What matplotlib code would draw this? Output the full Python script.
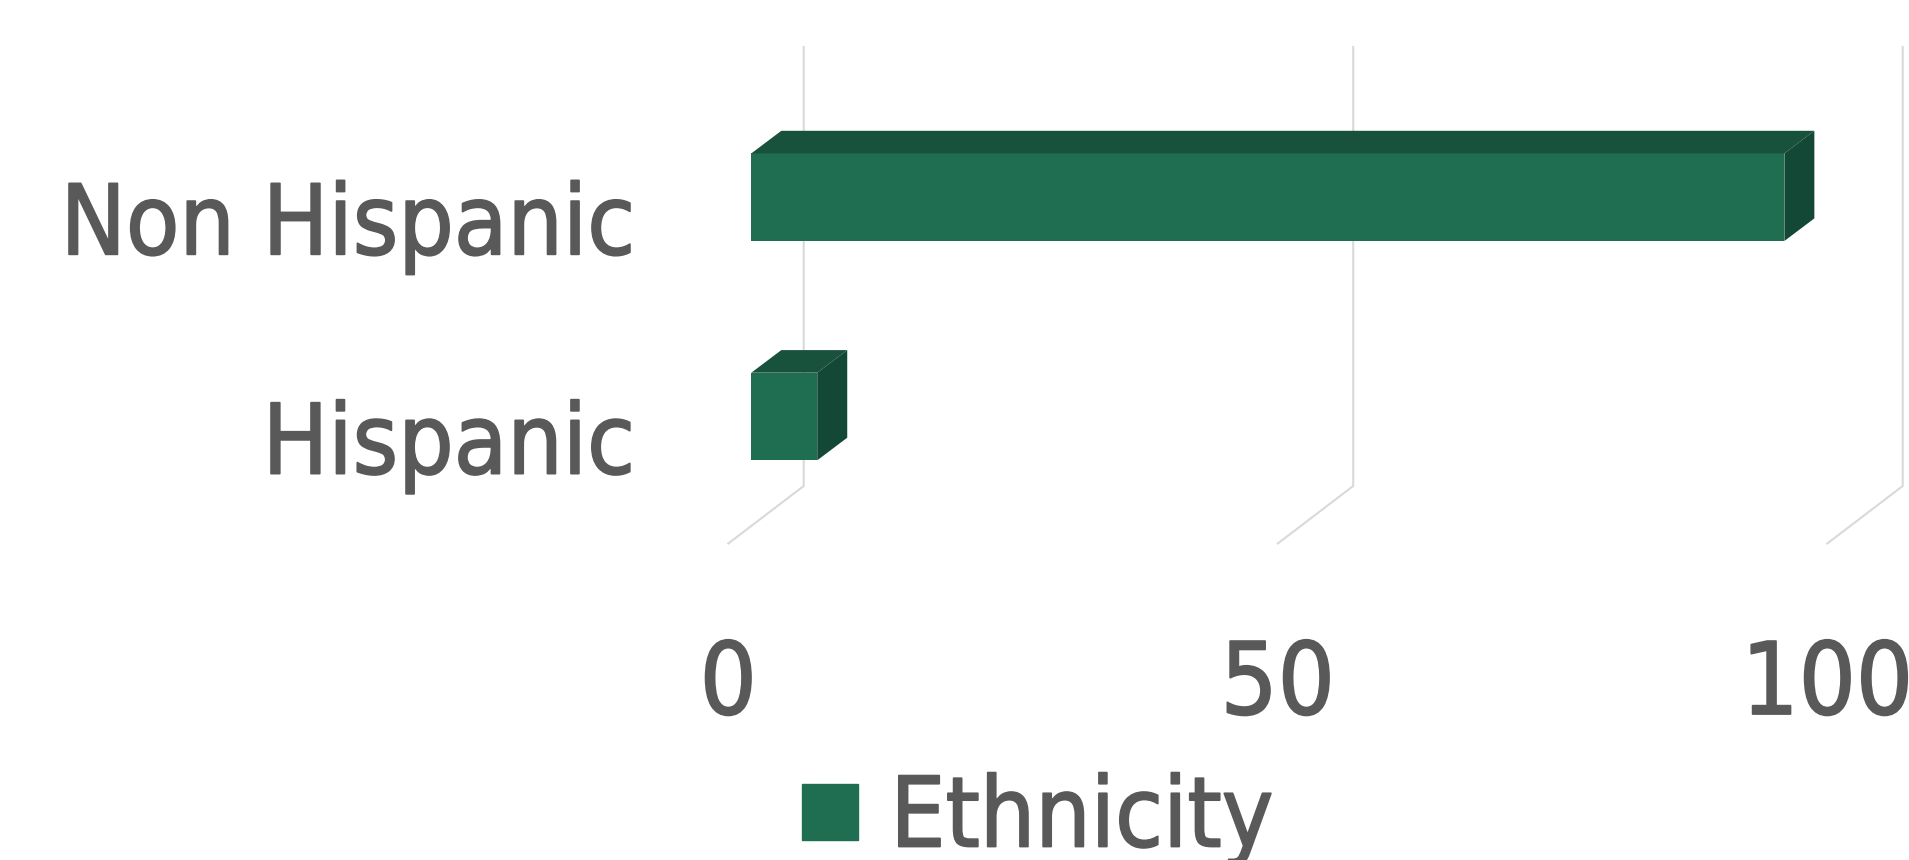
import matplotlib
matplotlib.use("Agg")
import matplotlib.pyplot as plt
import matplotlib.patheffects as pe
from matplotlib.patches import Patch, Polygon

categories = ["Hispanic", "Non Hispanic"]
values = [6, 94]
x_ticks = [0, 50, 100]
series_name = "Ethnicity"

FRONT = "#1F6E52"
TOP = "#18523D"
SIDE = "#134836"
GRID = "#D9D9D9"
TEXT = "#595959"
FONT = {"family": "DejaVu Sans", "stretch": "condensed"}
BOLDER = [pe.withStroke(linewidth=1.3, foreground=TEXT)]

W, H = 1909, 860
X0_PX = 751.3
PX_PER_UNIT = 10.99
Y0_PX = 416.5
PX_PER_CAT = 219.3
DEPTH_X = 30 / PX_PER_UNIT
DEPTH_Y = 22.6 / PX_PER_CAT
FLOOR_FRONT = (-23 / PX_PER_UNIT, -127 / PX_PER_CAT)
FLOOR_BACK = (52.4 / PX_PER_UNIT, -69.5 / PX_PER_CAT)
GRID_TOP = (Y0_PX - 47) / PX_PER_CAT
BAR_H = 87.6 / PX_PER_CAT

fig = plt.figure(figsize=(W / 100, H / 100), dpi=100)
ax = fig.add_axes([0, 0, 1, 1])
ax.set_xlim(-X0_PX / PX_PER_UNIT, (W - X0_PX) / PX_PER_UNIT)
ax.set_ylim((Y0_PX - H) / PX_PER_CAT, Y0_PX / PX_PER_CAT)
ax.axis("off")

# gridlines with the little slanted foot on the floor
for t in x_ticks:
    ax.plot([t + FLOOR_FRONT[0], t + FLOOR_BACK[0], t + FLOOR_BACK[0]],
            [FLOOR_FRONT[1], FLOOR_BACK[1], GRID_TOP],
            color=GRID, lw=1.5, zorder=1, solid_joinstyle="miter")
    ax.text(t + FLOOR_FRONT[0], (Y0_PX - 714) / PX_PER_CAT, str(t),
            ha="center", va="baseline", fontsize=72, color=TEXT,
            path_effects=BOLDER, **FONT)

ypos = list(range(len(categories)))
ax.barh(ypos, values, height=BAR_H, color=FRONT, zorder=3)
for y, v, name in zip(ypos, values, categories):
    top_y = y + BAR_H / 2
    low_y = y - BAR_H / 2
    ax.add_patch(Polygon([(0, top_y), (v, top_y), (v + DEPTH_X, top_y + DEPTH_Y),
                          (DEPTH_X, top_y + DEPTH_Y)], closed=True, fc=TOP, ec="none", zorder=3))
    ax.add_patch(Polygon([(v, low_y), (v, top_y), (v + DEPTH_X, top_y + DEPTH_Y),
                          (v + DEPTH_X, low_y + DEPTH_Y)], closed=True, fc=SIDE, ec="none", zorder=3))
    ax.text((635 - X0_PX) / PX_PER_UNIT, y + (416.5 - 473.6) / PX_PER_CAT, name,
            ha="right", va="baseline", fontsize=70, color=TEXT,
            path_effects=BOLDER, **FONT)

fs = 70
fs_px = fs * 100 / 72
leg = ax.legend(handles=[Patch(color=FRONT, label=series_name)],
                loc="center left", bbox_to_anchor=(802.3 / W, 1 - 820 / H),
                bbox_transform=fig.transFigure, frameon=False,
                borderpad=0, borderaxespad=0,
                handlelength=56 / fs_px, handleheight=0.509,
                handletextpad=32 / fs_px,
                prop={"size": fs, **FONT}, labelcolor=TEXT)
leg.get_texts()[0].set_path_effects(BOLDER)

fig.savefig("out.png", dpi=100)
